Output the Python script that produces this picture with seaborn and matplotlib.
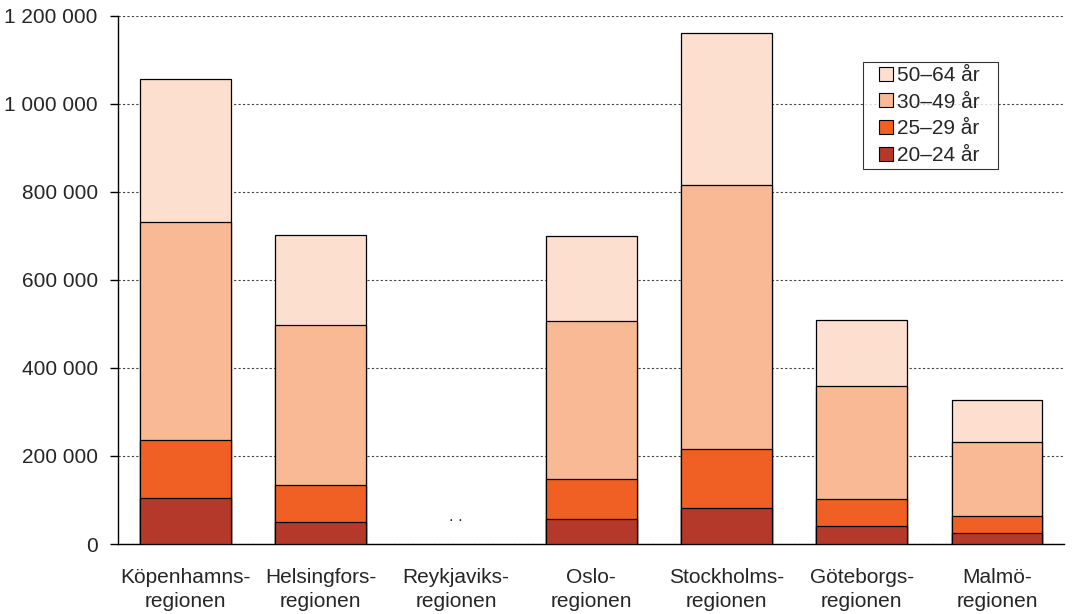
import pandas as pd
import numpy as np
import matplotlib
matplotlib.use("Agg")
import matplotlib.pyplot as plt
import seaborn as sns
from matplotlib.lines import Line2D

sns.set_style("white")
plt.rcParams['font.family'] = ['Liberation Sans', 'DejaVu Sans']
plt.rcParams['font.size'] = 15

regions = ["Köpenhamns-\nregionen", "Helsingfors-\nregionen", "Reykjaviks-\nregionen",
           "Oslo-\nregionen", "Stockholms-\nregionen", "Göteborgs-\nregionen", "Malmö-\nregionen"]
age_groups = ["20–24 år", "25–29 år", "30–49 år", "50–64 år"]
a20_24 = [104000, 50000, np.nan, 57000, 82000, 41000, 25000]
a25_29 = [132000, 84000, np.nan, 91000, 134000, 61000, 39000]
a30_49 = [496000, 364000, np.nan, 359000, 600000, 257000, 168000]
a50_64 = [325000, 204000, np.nan, 193000, 345000, 150000, 95000]
colors = ["#B5392A", "#F05F24", "#F9B995", "#FDDFD0"]

df = pd.DataFrame({"Region": regions, age_groups[0]: a20_24, age_groups[1]: a25_29,
                   age_groups[2]: a30_49, age_groups[3]: a50_64})
cum = df[age_groups].cumsum(axis=1)

fig, ax = plt.subplots(figsize=(10.72, 6.14), dpi=100)
fig.subplots_adjust(left=0.11, right=0.993, top=0.974, bottom=0.114)

# draw cumulative totals from the top layer down so each segment shows
for grp, col in reversed(list(zip(age_groups, colors))):
    sns.barplot(x=df["Region"], y=cum[grp], order=regions, color=col, width=0.67,
                edgecolor="black", linewidth=0.9, saturation=1, ax=ax, zorder=3)

ax.text(2, 62000, ". .", ha="center", va="center", fontsize=12)

ax.set_ylim(0, 1200000)
ax.set_xlim(-0.5, 6.5)
ax.set_yticks(np.arange(0, 1200001, 200000))
ax.set_yticklabels([f"{v:,}".replace(",", " ") for v in range(0, 1200001, 200000)])
ax.yaxis.grid(True, linestyle=(0, (2, 2)), color="#444444", linewidth=0.8, zorder=0)
ax.set_axisbelow(True)
ax.set_xlabel("")
ax.set_ylabel("")

ax.set_xticks(range(len(regions)))
ax.set_xticklabels(regions, linespacing=1.33)
ax.set_xticks(np.arange(-0.5, 7, 1), minor=True)
ax.tick_params(axis="x", which="major", length=0, pad=17.5)
ax.tick_params(axis="x", which="minor", length=5, width=1, direction="out", color="black")
ax.tick_params(axis="y", length=6, width=1, direction="out", color="black", left=True, pad=8.5)

sns.despine(ax=ax, top=True, right=True)
for s in ["left", "bottom"]:
    ax.spines[s].set_color("black")
    ax.spines[s].set_linewidth(1)

handles = [Line2D([], [], marker="s", linestyle="", markersize=10, markerfacecolor=c,
                  markeredgecolor="black", markeredgewidth=0.8, label=g + "\u2009\u2002")
           for g, c in zip(age_groups, colors)]
leg = ax.legend(handles=handles[::-1], loc="upper left", bbox_to_anchor=(0.787, 0.913),
                frameon=True, fancybox=False, edgecolor="black", numpoints=1,
                handlelength=1.83, handletextpad=-0.4, borderpad=0.2, labelspacing=0.37,
                borderaxespad=0, fontsize=15)
leg.get_frame().set_linewidth(0.8)
leg.set_zorder(5)

plt.savefig("out.png", dpi=100)
